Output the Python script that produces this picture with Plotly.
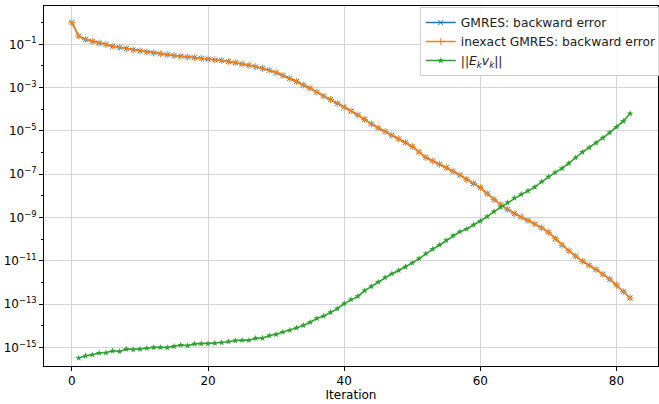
import plotly.graph_objects as go

# Iteration numbers
iters_err = list(range(0, 83))
iters_ev = list(range(1, 83))

# log10 of the backward error, iterations 0..82
inexact_log10 = [
    0.00, -0.62, -0.77, -0.86, -0.94, -1.01, -1.09, -1.14, -1.20, -1.26,
    -1.31, -1.36, -1.40, -1.44, -1.48, -1.52, -1.55, -1.59, -1.62, -1.65,
    -1.68, -1.72, -1.75, -1.80, -1.85, -1.91, -1.97, -2.04, -2.11, -2.20,
    -2.31, -2.44, -2.58, -2.72, -2.88, -3.03, -3.21, -3.39, -3.55, -3.73,
    -3.90, -4.08, -4.26, -4.47, -4.68, -4.87, -5.03, -5.20, -5.37, -5.53,
    -5.72, -5.98, -6.23, -6.39, -6.54, -6.70, -6.87, -7.04, -7.24, -7.43,
    -7.62, -7.90, -8.17, -8.41, -8.62, -8.82, -8.98, -9.14, -9.30, -9.48,
    -9.68, -9.98, -10.28, -10.54, -10.78, -11.02, -11.21, -11.40, -11.62, -11.85,
    -12.12, -12.42, -12.72,
]
# GMRES backward error lies on top of the inexact one in the picture
gmres_log10 = [
    0.00, -0.62, -0.77, -0.86, -0.94, -1.01, -1.09, -1.14, -1.20, -1.26,
    -1.31, -1.36, -1.40, -1.44, -1.48, -1.52, -1.55, -1.59, -1.62, -1.65,
    -1.68, -1.72, -1.75, -1.80, -1.85, -1.91, -1.97, -2.04, -2.11, -2.20,
    -2.31, -2.44, -2.58, -2.72, -2.88, -3.03, -3.21, -3.39, -3.55, -3.73,
    -3.90, -4.08, -4.26, -4.47, -4.68, -4.87, -5.03, -5.20, -5.37, -5.53,
    -5.72, -5.98, -6.23, -6.39, -6.54, -6.70, -6.87, -7.04, -7.24, -7.43,
    -7.62, -7.90, -8.17, -8.41, -8.62, -8.82, -8.98, -9.14, -9.30, -9.48,
    -9.68, -9.98, -10.28, -10.54, -10.78, -11.02, -11.21, -11.40, -11.62, -11.85,
    -12.12, -12.42, -12.72,
]
# log10 of ||E_k v_k||, iterations 1..82
ev_log10 = [
    -15.49, -15.39, -15.34, -15.26, -15.25, -15.16, -15.19, -15.08, -15.10,
    -15.08, -15.04, -15.00, -15.00, -15.01, -14.95, -14.89, -14.92, -14.84, -14.83,
    -14.83, -14.80, -14.78, -14.73, -14.69, -14.67, -14.67, -14.58, -14.57, -14.46,
    -14.40, -14.29, -14.21, -14.10, -13.98, -13.84, -13.66, -13.55, -13.38, -13.21,
    -12.98, -12.79, -12.64, -12.38, -12.18, -11.98, -11.77, -11.60, -11.45, -11.28,
    -11.10, -10.90, -10.67, -10.46, -10.27, -10.06, -9.84, -9.66, -9.53, -9.34,
    -9.17, -8.96, -8.73, -8.52, -8.31, -8.10, -7.93, -7.77, -7.60, -7.35,
    -7.12, -6.92, -6.73, -6.50, -6.24, -5.98, -5.77, -5.55, -5.32, -5.08,
    -4.82, -4.55, -4.20,
]

x_ticks = [0, 20, 40, 60, 80]
y_tick_exps = [-1, -3, -5, -7, -9, -11, -13, -15]
y_minor_exps = [0, -2, -4, -6, -8, -10, -12, -14]

gmres = [10 ** v for v in gmres_log10]
inexact = [10 ** v for v in inexact_log10]
ev = [10 ** v for v in ev_log10]

font = "DejaVu Sans, Verdana, sans-serif"

fig = go.Figure()
fig.add_trace(go.Scatter(
    x=iters_err, y=gmres, mode="lines+markers",
    name="GMRES: backward error",
    line=dict(color="#1f77b4", width=1.5),
    marker=dict(symbol="x-thin", size=5, color="#1f77b4",
                line=dict(color="#1f77b4", width=1)),
))
fig.add_trace(go.Scatter(
    x=iters_err, y=inexact, mode="lines+markers",
    name="inexact GMRES: backward error",
    line=dict(color="#ff7f0e", width=1.5),
    marker=dict(symbol="cross-thin", size=5, color="#ff7f0e",
                line=dict(color="#ff7f0e", width=1)),
))
fig.add_trace(go.Scatter(
    x=iters_ev, y=ev, mode="lines+markers",
    name="||<i>E<sub>k</sub>v<sub>k</sub></i>||",
    line=dict(color="#2ca02c", width=1.5),
    marker=dict(symbol="star", size=5, color="#2ca02c",
                line=dict(color="#2ca02c", width=0)),
))

fig.update_layout(
    width=659, height=404,
    margin=dict(l=44, r=1, t=6, b=38, autoexpand=False),
    paper_bgcolor="white", plot_bgcolor="white",
    font=dict(family=font, size=12, color="black"),
    showlegend=True,
    legend=dict(
        x=0.612, xanchor="left", y=0.997, yanchor="top",
        bgcolor="rgba(255,255,255,0.85)", bordercolor="#cccccc", borderwidth=1,
        font=dict(family=font, size=12.3, color="#222222"),
        tracegroupgap=0, itemwidth=30,
    ),
    xaxis=dict(
        range=[-4.1, 86.1], tickvals=x_ticks, ticktext=[str(v) for v in x_ticks],
        showgrid=True, gridcolor="#d5d5d5", gridwidth=1,
        showline=True, linecolor="black", linewidth=1, mirror=True,
        ticks="outside", ticklen=4, tickcolor="black", zeroline=False,
        automargin=False,
        title=dict(text="Iteration", standoff=0, font=dict(size=12)),
        tickfont=dict(size=12),
    ),
    yaxis=dict(
        type="log", range=[-15.86, 0.77],
        tickvals=[10 ** e for e in y_tick_exps],
        ticktext=["10<sup>\u2212%d</sup>" % (-e) for e in y_tick_exps],
        showgrid=True, gridcolor="#d5d5d5", gridwidth=1,
        showline=True, linecolor="black", linewidth=1, mirror=True,
        ticks="outside", ticklen=4, tickcolor="black", zeroline=False,
        automargin=False,
        tickfont=dict(size=12),
        minor=dict(tickvals=[10 ** e for e in y_minor_exps], ticks="outside",
                   ticklen=2, tickcolor="black", showgrid=False),
    ),
)

fig.write_html(
    "out.html",
    config={"displayModeBar": False},
    post_script="document.body.style.margin='0';document.body.style.padding='0';",
)
